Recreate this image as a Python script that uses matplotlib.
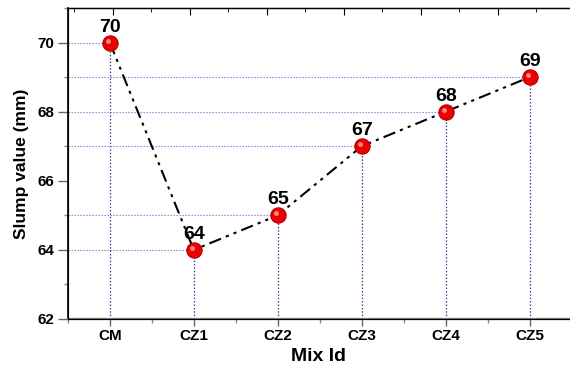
import numpy as np
from matplotlib import pyplot as plt
from matplotlib.transforms import ScaledTranslation
from matplotlib.ticker import MultipleLocator

mixes = ['CM', 'CZ1', 'CZ2', 'CZ3', 'CZ4', 'CZ5']
slump = [70, 64, 65, 67, 68, 69]

plt.rcParams['font.family'] = ['Liberation Sans', 'DejaVu Sans']
plt.rcParams['font.weight'] = 'bold'

fig = plt.figure(figsize=(5.7, 3.72), dpi=100)
ax = fig.add_axes([0.119, 0.1425, 0.881, 0.836])

x = np.arange(len(mixes))
ax.set_xlim(-0.5, 5.48)
ax.set_ylim(62, 71)

# drop lines to the axes
for xi, yi in zip(x, slump):
    ax.plot([xi, xi], [62, yi], color='#3c3c8c', lw=0.9, ls=(0, (1.2, 1.5)), zorder=1)
    ax.plot([-0.5, xi], [yi, yi], color='#7c7cd4', lw=0.8, ls=(0, (1.2, 1.5)), zorder=1)

ax.plot(x, slump, color='black', lw=1.5, ls=(0, (6, 2.5, 1.5, 2.5, 1.5, 2.5)), zorder=2)
ax.plot(x, slump, 'o', ms=11, mfc='#ee0000', mec='#b00000', mew=0.8, zorder=3)
shift = ax.transData + ScaledTranslation(-2/100, 2/100, fig.dpi_scale_trans)
ax.plot(x, slump, 'o', ms=3.5, mfc='#ff9a9a', mec='none', alpha=0.9, zorder=4, transform=shift)

for xi, yi in zip(x, slump):
    ax.annotate(str(yi), (xi, yi), xytext=(0, 5), textcoords='offset points',
                ha='center', va='bottom', fontsize=14, fontweight='bold')

ax.set_xticks(x)
ax.set_xticklabels(mixes)
ax.xaxis.set_minor_locator(MultipleLocator(0.5))
ax.yaxis.set_major_locator(MultipleLocator(2))
ax.yaxis.set_minor_locator(MultipleLocator(1))
ax.tick_params(axis='x', which='major', length=5, width=1, color='#666666', labelsize=11, pad=2)
ax.tick_params(axis='x', which='minor', length=3, width=1, color='#888888')
ax.tick_params(axis='y', which='major', length=7, width=1, color='#666666', labelsize=11, pad=3)
ax.tick_params(axis='y', which='minor', length=3, width=1, color='#888888')

ax.spines['right'].set_visible(False)
ax.spines['bottom'].set_color('#777777')
ax.spines['bottom'].set_linewidth(1.6)
ax.spines['left'].set_linewidth(1.2)
ax.spines['top'].set_linewidth(1.0)

# top axis ticks with their own spacing
top = ax.twiny()
top.set_xlim(-0.584, 5.935)
top.xaxis.set_major_locator(MultipleLocator(1))
top.xaxis.set_minor_locator(MultipleLocator(0.5))
top.tick_params(axis='x', which='major', direction='in', length=5, labeltop=False)
top.tick_params(axis='x', which='minor', direction='in', length=3)
top.spines['right'].set_visible(False)

ax.set_xlabel('Mix Id', fontsize=14, fontweight='bold', labelpad=4)
ax.set_ylabel('Slump value (mm)', fontsize=12.5, fontweight='bold', labelpad=6)

fig.savefig('out.png', dpi=100)
